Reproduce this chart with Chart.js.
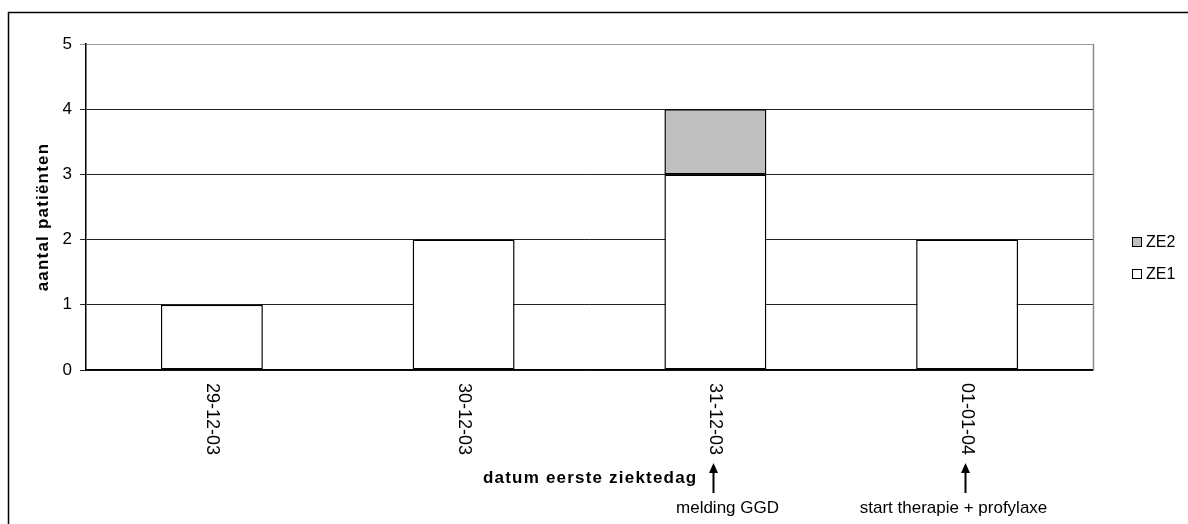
<!DOCTYPE html>
<html>
<head>
<meta charset="utf-8">
<script src="https://cdn.jsdelivr.net/npm/chart.js@4/dist/chart.umd.min.js"></script>
<style>
  html, body { margin: 0; padding: 0; background: #fff; }
  #wrap { width: 1188px; height: 524px; }
</style>
</head>
<body>
<div id="wrap"><canvas id="c" width="1188" height="524"></canvas></div>
<script>
// Patients per first day of illness
const categories = ['29-12-03', '30-12-03', '31-12-03', '01-01-04'];
const ze1 = [1, 2, 3, 2];
const ze2 = [0, 0, 1, 0];
const seriesNames = ['ZE1', 'ZE2'];
const yTitle = 'aantal patiënten';
const xTitle = 'datum eerste ziektedag';
const noteCategories = ['31-12-03', '01-01-04'];
const noteTexts = ['melding GGD', 'start therapie + profylaxe'];

const FONT = '"Liberation Sans", Arial, sans-serif';

const decor = {
  id: 'decor',
  afterDraw(chart) {
    const ctx = chart.ctx;
    const area = chart.chartArea;
    const xs = chart.scales.x;
    ctx.save();

    // outer frame (left and top edges visible)
    ctx.strokeStyle = '#000';
    ctx.lineWidth = 1.5;
    ctx.strokeRect(8.5, 12.5, 1300, 700);

    // right edge of plot area
    ctx.strokeStyle = '#888';
    ctx.lineWidth = 1.5;
    ctx.beginPath();
    ctx.moveTo(Math.round(area.right) + 0.5, area.top);
    ctx.lineTo(Math.round(area.right) + 0.5, area.bottom);
    ctx.stroke();

    // category labels, rotated clockwise
    ctx.fillStyle = '#000';
    ctx.font = '18px ' + FONT;
    ctx.textAlign = 'left';
    ctx.textBaseline = 'middle';
    categories.forEach((c, i) => {
      const x = xs.getPixelForValue(i);
      ctx.save();
      ctx.translate(x, area.bottom + 13);
      ctx.rotate(Math.PI / 2);
      ctx.fillText(c, 0, 0);
      ctx.restore();
    });

    // axis titles
    ctx.font = 'bold 17px ' + FONT;
    ctx.letterSpacing = '1.2px';
    ctx.textBaseline = 'alphabetic';
    ctx.save();
    ctx.translate(48, (area.top + area.bottom) / 2 + 10);
    ctx.rotate(-Math.PI / 2);
    ctx.textAlign = 'center';
    ctx.fillText(yTitle, 0, 0);
    ctx.restore();

    ctx.textAlign = 'right';
    ctx.fillText(xTitle, xs.getPixelForValue(2) - 18, 483);
    ctx.letterSpacing = '0px';

    // event arrows and notes
    ctx.font = '17px ' + FONT;
    ctx.textAlign = 'center';
    noteCategories.forEach((cat, k) => {
      const x = Math.round(xs.getPixelForValue(categories.indexOf(cat))) - 1.5;
      const tip = 463, tail = 493;
      ctx.strokeStyle = '#000';
      ctx.lineWidth = 2;
      ctx.beginPath();
      ctx.moveTo(x, tip + 6);
      ctx.lineTo(x, tail);
      ctx.stroke();
      ctx.beginPath();
      ctx.moveTo(x, tip);
      ctx.lineTo(x - 4.5, tip + 10);
      ctx.lineTo(x + 4.5, tip + 10);
      ctx.closePath();
      ctx.fill();
      const cx = k === 0 ? x + 14 : x - 12;
      ctx.fillText(noteTexts[k], cx, 513);
    });

    // legend
    const items = [
      { name: seriesNames[1], fill: '#c0c0c0', y: 242 },
      { name: seriesNames[0], fill: '#ffffff', y: 274 }
    ];
    ctx.font = '16px ' + FONT;
    ctx.textAlign = 'left';
    ctx.textBaseline = 'middle';
    items.forEach(it => {
      ctx.fillStyle = it.fill;
      ctx.fillRect(1132, it.y - 4, 9, 9);
      ctx.strokeStyle = '#000';
      ctx.lineWidth = 1;
      ctx.strokeRect(1132.5, it.y - 4.5, 9, 9);
      ctx.fillStyle = '#000';
      ctx.fillText(it.name, 1146, it.y + 1);
    });

    ctx.restore();
  }
};

new Chart(document.getElementById('c'), {
  type: 'bar',
  data: {
    labels: categories,
    datasets: [
      {
        label: seriesNames[0],
        data: ze1,
        backgroundColor: '#ffffff',
        borderColor: '#000',
        borderWidth: 1.5,
        borderSkipped: false,
        barPercentage: 0.405,
        categoryPercentage: 1
      },
      {
        label: seriesNames[1],
        data: ze2,
        backgroundColor: '#c0c0c0',
        borderColor: '#000',
        borderWidth: 1.5,
        borderSkipped: false,
        barPercentage: 0.405,
        categoryPercentage: 1
      }
    ]
  },
  options: {
    responsive: false,
    animation: false,
    events: [],
    layout: { padding: { top: 44, right: 95, left: 0, bottom: 0 } },
    plugins: { legend: { display: false }, tooltip: { enabled: false } },
    scales: {
      x: {
        stacked: true,
        grid: { display: false },
        border: { display: true, color: '#000', width: 1.5 },
        ticks: { display: false },
        afterFit: s => { s.height = 154; }
      },
      y: {
        stacked: true,
        min: 0,
        max: 5,
        ticks: {
          stepSize: 1,
          color: '#000',
          padding: 8,
          font: { family: FONT, size: 17 }
        },
        grid: {
          color: c => (c.tick && c.tick.value === 5 ? '#999' : '#222'),
          tickLength: 6,
          drawTicks: true
        },
        border: { color: '#000', width: 1.5 },
        afterFit: s => { s.width = 86; }
      }
    }
  },
  plugins: [decor]
});
</script>
</body>
</html>
